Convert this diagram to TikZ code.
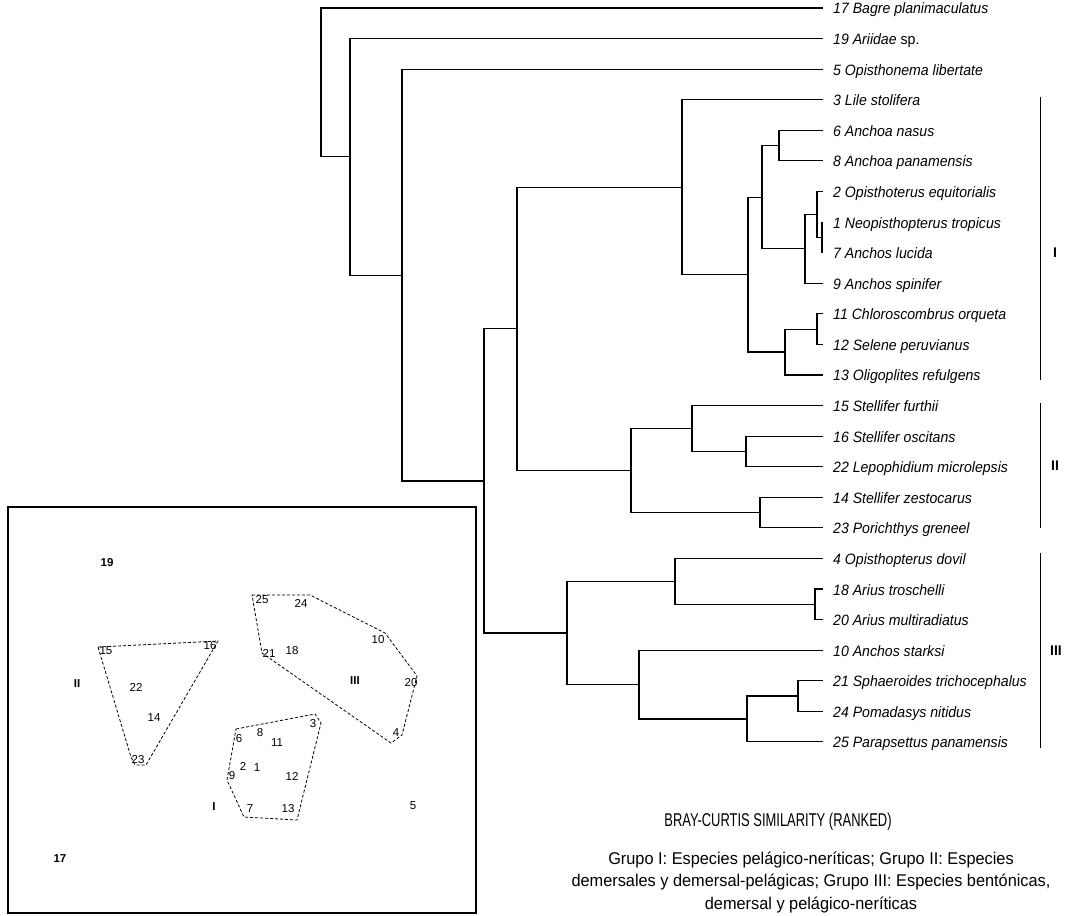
\documentclass[tikz,border=0pt]{standalone}
\usepackage{fontspec}
\setmainfont{Liberation Sans}
\newfontfamily\titlefont[FakeStretch=0.70]{Liberation Sans}
\newfontfamily\parafont[FakeStretch=0.96]{Liberation Sans}
\newfontfamily\leaffont[FakeStretch=0.94]{Liberation Sans}
\begin{document}
\begin{tikzpicture}[x=1pt,y=-1pt,
  tree/.style={line width=1.1pt},
  bar/.style={line width=1.0pt},
  leaf/.style={anchor=base west, inner sep=0pt, font=\leaffont\fontsize{15}{17}\selectfont\itshape},
  grp/.style={inner sep=0pt, font=\fontsize{14}{16}\selectfont\bfseries},
  pt/.style={inner sep=0pt, font=\fontsize{11.5}{13}\selectfont},
  ptb/.style={inner sep=0pt, font=\fontsize{11.5}{13}\selectfont\bfseries},
  hull/.style={dash pattern=on 3pt off 2pt, line width=0.8pt},
  frame/.style={line width=1.2pt}
]
\useasboundingbox (0,0) rectangle (1067,915);

% ---- leaves
\foreach \i/\n/\t in {
0/17/{17 Bagre planimaculatus},
1/19/{19 Ariidae \textup{sp.}},
2/5/{5 Opisthonema libertate},
3/3/{3 Lile stolifera},
4/6/{6 Anchoa nasus},
5/8/{8 Anchoa panamensis},
6/2/{2 Opisthoterus equitorialis},
7/1/{1 Neopisthopterus tropicus},
8/7/{7 Anchos lucida},
9/9/{9 Anchos spinifer},
10/11/{11 Chloroscombrus orqueta},
11/12/{12 Selene peruvianus},
12/13/{13 Oligoplites refulgens},
13/15/{15 Stellifer furthii},
14/16/{16 Stellifer oscitans},
15/22/{22 Lepophidium microlepsis},
16/14/{14 Stellifer zestocarus},
17/23/{23 Porichthys greneel},
18/4/{4 Opisthopterus dovil},
19/18/{18 Arius troschelli},
20/20/{20 Arius multiradiatus},
21/10/{10 Anchos starksi},
22/21/{21 Sphaeroides trichocephalus},
23/24/{24 Pomadasys nitidus},
24/25/{25 Parapsettus panamensis}}
{
  \pgfmathsetmacro\yy{8+30.58*\i}
  \coordinate (e\n) at (823,\yy);
  \node[leaf] (l\n) at (833,{\yy+6}) {\t};
}

% ---- internal nodes
\coordinate (G) at (822,237.35);
\coordinate (F) at (817,214.4);
\coordinate (E) at (805,248.8);
\coordinate (D) at (779,145.6);
\coordinate (C) at (762,197.2);
\coordinate (I) at (817,329.1);
\coordinate (H) at (785,352.0);
\coordinate (B) at (748,274.6);
\coordinate (A) at (682,187.2);
\coordinate (L) at (746,451.4);
\coordinate (K) at (692,428.5);
\coordinate (M) at (760,512.6);
\coordinate (J) at (631,470.5);
\coordinate (T) at (517,328.9);
\coordinate (R) at (815,604.3);
\coordinate (O) at (675,581.4);
\coordinate (S) at (798,696.0);
\coordinate (Q) at (747,719.0);
\coordinate (P) at (639,684.6);
\coordinate (N) at (567,633.0);
\coordinate (U) at (484,481.0);
\coordinate (V) at (402,275.1);
\coordinate (W) at (350,156.8);
\coordinate (X) at (321,82.4);

\foreach \p/\a/\b in {G/e1/e7, F/e2/G, E/F/e9, D/e6/e8, C/D/E, I/e11/e12,
  H/I/e13, B/C/H, A/e3/B, L/e16/e22, K/e15/L, M/e14/e23, J/K/M, T/A/J,
  R/e18/e20, O/e4/R, S/e21/e24, Q/S/e25, P/e10/Q, N/O/P, U/T/N, V/e5/U,
  W/e19/V, X/e17/W}
  \draw[tree] (\a) -| (\p) |- (\b);

% ---- group bars
\draw[bar] (1040,97) -- (1040,380);
\draw[bar] (1040,403) -- (1040,528);
\draw[bar] (1040,553) -- (1040,748);
\node[grp] (gI) at (1055,253) {I};
\node[grp] (gII) at (1055,466) {II};
\node[grp] (gIII) at (1056,651) {III};

% ---- inset ordination
\draw[frame] (8,507) rectangle (476,913);
\draw[hull] (98,647) -- (218,641) -- (146,765) -- (135,765) -- (131,757) -- cycle;
\draw[hull] (252,595) -- (310,595) -- (385,633) -- (417,676) -- (402,735) -- (391,743) -- (262,653) -- cycle;
\draw[hull] (236,729) -- (315,714) -- (321,723) -- (297,820) -- (244,817) -- (227,780) -- cycle;

\node[ptb] (p19) at (107,563) {19};
\node[pt] (p15) at (106,651) {15};
\node[pt] (p16) at (210,646) {16};
\node[ptb] (pII) at (77,684) {II};
\node[pt] (p22) at (136,687) {22};
\node[pt] (p14) at (154,718) {14};
\node[pt] (p23) at (138,760) {23};
\node[pt] (p25) at (262,600) {25};
\node[pt] (p24) at (301,603) {24};
\node[pt] (p10) at (378,640) {10};
\node[pt] (p21) at (269,653) {21};
\node[pt] (p18) at (292,651) {18};
\node[ptb] (pIII) at (355,681) {III};
\node[pt] (p20) at (411,683) {20};
\node[pt] (p4) at (396,733) {4};
\node[pt] (p6) at (239,739) {6};
\node[pt] (p8) at (260,733) {8};
\node[pt] (p11) at (277,743) {11};
\node[pt] (p3) at (313,724) {3};
\node[pt] (p2) at (243,766) {2};
\node[pt] (p1) at (257,768) {1};
\node[pt] (p9) at (232,776) {9};
\node[pt] (p12) at (292,776) {12};
\node[ptb] (pI) at (214,807) {I};
\node[pt] (p7) at (250,809) {7};
\node[pt] (p13) at (288,809) {13};
\node[pt] (p5) at (413,806) {5};
\node[ptb] (p17) at (60,859) {17};

% ---- captions
\node[inner sep=0pt, font=\titlefont\fontsize{18.5}{20}\selectfont] (title) at (778,822) {BRAY-CURTIS SIMILARITY (RANKED)};
\node[inner sep=0pt, align=center, font=\parafont\fontsize{17}{22.5}\selectfont] (legend) at (811,882)
  {Grupo I: Especies pelágico-neríticas; Grupo II: Especies\\
   demersales y demersal-pelágicas; Grupo III: Especies bentónicas,\\
   demersal y pelágico-neríticas};
\end{tikzpicture}
\end{document}
